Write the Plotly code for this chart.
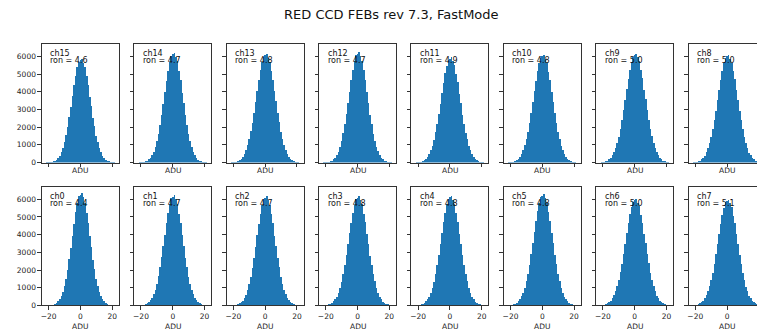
import plotly.graph_objects as go

# ---------------- data ----------------
title_text = "RED CCD FEBs rev 7.3, FastMode"
bin_centers = [-21, -20, -19, -18, -17, -16, -15, -14, -13, -12, -11, -10, -9, -8, -7, -6, -5, -4, -3, -2, -1, 0,
               1, 2, 3, 4, 5, 6, 7, 8, 9, 10, 11, 12, 13, 14, 15, 16, 17, 18, 19, 20, 21]
top_channels = ["ch15", "ch14", "ch13", "ch12", "ch11", "ch10", "ch9", "ch8"]
bottom_channels = ["ch0", "ch1", "ch2", "ch3", "ch4", "ch5", "ch6", "ch7"]
ron_values = {"ch15": 4.6, "ch14": 4.7, "ch13": 4.8, "ch12": 4.7, "ch11": 4.9, "ch10": 4.8, "ch9": 5.0, "ch8": 5.0,
              "ch0": 4.4, "ch1": 4.7, "ch2": 4.7, "ch3": 4.8, "ch4": 4.8, "ch5": 4.8, "ch6": 5.0, "ch7": 5.1}
x_tick_values = [-20, 0, 20]
y_tick_values = [0, 1000, 2000, 3000, 4000, 5000, 6000]

counts_ch15 = [6, 11, 21, 36, 62, 103, 166, 259, 393, 579, 827, 1146, 1544, 2017, 2558, 3150, 3765, 4368, 4919, 5378, 5708, 5790,
               5880, 5650, 5410, 4880, 4390, 3730, 3170, 2530, 2040, 1520, 1160, 810, 590, 385, 265, 160, 105, 60, 37, 20, 12]
counts_ch14 = [6, 12, 22, 39, 66, 109, 175, 274, 415, 612, 875, 1212, 1633, 2133, 2706, 3332, 3983, 4620, 5204, 5689, 6038, 6120,
               6220, 5990, 5720, 5170, 4650, 3950, 3360, 2680, 2150, 1615, 1225, 860, 620, 408, 278, 170, 111, 64, 40, 21, 12]
counts_ch13 = [10, 18, 31, 53, 87, 141, 219, 333, 491, 705, 983, 1335, 1762, 2263, 2825, 3432, 4055, 4658, 5206, 5659, 5981, 6060,
               6150, 5930, 5690, 5170, 4690, 4020, 3460, 2800, 2280, 1745, 1350, 970, 712, 484, 337, 215, 143, 85, 54, 30, 18]
counts_ch12 = [7, 12, 22, 39, 66, 110, 177, 277, 419, 617, 882, 1222, 1646, 2151, 2727, 3359, 4015, 4657, 5245, 5735, 6086, 6150,
               6270, 6040, 5770, 5210, 4690, 3985, 3380, 2705, 2170, 1630, 1235, 870, 625, 412, 281, 173, 112, 64, 40, 21, 12]
counts_ch11 = [10, 17, 30, 52, 84, 136, 212, 322, 475, 682, 951, 1292, 1705, 2189, 2733, 3321, 3923, 4507, 5037, 5475, 5787, 5870,
               5950, 5740, 5505, 5000, 4535, 3895, 3345, 2710, 2205, 1690, 1305, 940, 690, 468, 326, 208, 138, 82, 53, 29, 17]
counts_ch10 = [10, 18, 31, 53, 87, 140, 217, 330, 487, 699, 975, 1324, 1748, 2244, 2802, 3404, 4022, 4620, 5164, 5613, 5933, 6010,
               6100, 5880, 5645, 5130, 4650, 3990, 3430, 2780, 2260, 1730, 1340, 962, 706, 480, 334, 213, 142, 85, 54, 30, 18]
counts_ch9 = [15, 26, 44, 72, 115, 179, 271, 400, 576, 808, 1105, 1470, 1907, 2411, 2968, 3561, 4164, 4741, 5261, 5688, 5992, 6070,
              6150, 5940, 5720, 5225, 4770, 4130, 3590, 2945, 2430, 1890, 1485, 1090, 815, 568, 405, 266, 181, 113, 73, 43, 26]
counts_ch8 = [15, 26, 43, 71, 114, 177, 268, 396, 570, 799, 1092, 1454, 1885, 2383, 2934, 3521, 4116, 4687, 5201, 5623, 5924, 6000,
              6080, 5870, 5655, 5165, 4715, 4085, 3550, 2910, 2400, 1870, 1468, 1080, 806, 562, 400, 264, 179, 112, 72, 42, 26]
counts_ch0 = [4, 8, 15, 27, 48, 83, 139, 223, 349, 529, 775, 1101, 1515, 2018, 2604, 3256, 3943, 4624, 5253, 5780, 6161, 6270,
              6360, 6110, 5810, 5215, 4655, 3910, 3280, 2580, 2035, 1500, 1115, 762, 536, 343, 226, 136, 84, 47, 28, 14, 8]
counts_ch1 = [6, 12, 22, 39, 66, 110, 176, 276, 418, 615, 879, 1218, 1641, 2144, 2719, 3348, 4002, 4643, 5229, 5717, 6067, 6140,
              6250, 6020, 5750, 5195, 4675, 3970, 3370, 2695, 2160, 1625, 1230, 868, 622, 411, 280, 172, 111, 64, 40, 21, 12]
counts_ch2 = [6, 12, 22, 38, 66, 109, 175, 273, 414, 610, 872, 1208, 1628, 2127, 2697, 3321, 3970, 4605, 5187, 5671, 6018, 6100,
              6200, 5970, 5700, 5150, 4635, 3940, 3345, 2675, 2145, 1612, 1220, 862, 617, 408, 277, 171, 110, 64, 39, 21, 12]
counts_ch3 = [10, 18, 32, 54, 88, 142, 220, 334, 494, 708, 988, 1342, 1771, 2274, 2839, 3449, 4075, 4681, 5231, 5686, 6011, 6090,
              6180, 5960, 5715, 5195, 4710, 4045, 3475, 2815, 2290, 1755, 1355, 976, 715, 487, 338, 216, 144, 86, 55, 31, 18]
counts_ch4 = [10, 18, 32, 54, 88, 142, 221, 335, 495, 711, 991, 1346, 1776, 2281, 2848, 3460, 4088, 4696, 5248, 5705, 6030, 6110,
              6200, 5980, 5735, 5210, 4725, 4055, 3485, 2825, 2300, 1760, 1360, 980, 718, 489, 339, 217, 144, 86, 55, 31, 18]
counts_ch5 = [10, 18, 32, 54, 89, 144, 224, 340, 502, 720, 1004, 1363, 1799, 2310, 2885, 3505, 4140, 4756, 5316, 5778, 6108, 6190,
              6280, 6055, 5810, 5280, 4785, 4110, 3530, 2860, 2325, 1782, 1378, 992, 727, 495, 344, 220, 146, 87, 55, 31, 18]
counts_ch6 = [15, 25, 43, 70, 113, 175, 265, 392, 564, 791, 1081, 1439, 1867, 2360, 2905, 3486, 4076, 4641, 5150, 5568, 5865, 5940,
              6020, 5815, 5600, 5115, 4670, 4045, 3515, 2880, 2378, 1850, 1452, 1070, 798, 556, 396, 261, 177, 111, 71, 42, 25]
counts_ch7 = [15, 25, 43, 70, 112, 174, 263, 389, 560, 786, 1074, 1430, 1854, 2344, 2886, 3463, 4048, 4610, 5115, 5531, 5826, 5900,
              5980, 5775, 5560, 5080, 4640, 4015, 3490, 2860, 2360, 1838, 1444, 1062, 792, 553, 392, 259, 176, 110, 71, 42, 25]

counts = {"ch15": counts_ch15, "ch14": counts_ch14, "ch13": counts_ch13, "ch12": counts_ch12,
          "ch11": counts_ch11, "ch10": counts_ch10, "ch9": counts_ch9, "ch8": counts_ch8,
          "ch0": counts_ch0, "ch1": counts_ch1, "ch2": counts_ch2, "ch3": counts_ch3,
          "ch4": counts_ch4, "ch5": counts_ch5, "ch6": counts_ch6, "ch7": counts_ch7}

# ---------------- layout geometry (pixels) ----------------
W, H = 757, 335
PANEL_W = 77.0
COL_STEP = 92.5
LEFT0 = 41.0
ROW_TOP = [45.0, 190.0]
ROW_H = 120.0
PX_PER_ADU = PANEL_W / 48.4
X_MIN, X_MAX = -24.2, 24.2
Y_MAX = 6685

FONT = "DejaVu Sans"
BAR_COLOR = "#1f77b4"
SPINE = "#333333"

fig = go.Figure()
layout = dict(
    width=W, height=H,
    margin=dict(l=0, r=0, t=0, b=0),
    paper_bgcolor="white", plot_bgcolor="white",
    showlegend=False, bargap=0, hovermode=False,
    font=dict(family=FONT, size=8, color="#222222"),
)
annotations = []

idx = 0
for r, row in enumerate([top_channels, bottom_channels]):
    top_px = ROW_TOP[r]
    bot_px = top_px + ROW_H
    for c, ch in enumerate(row):
        idx += 1
        sfx = "" if idx == 1 else str(idx)
        left_px = LEFT0 + COL_STEP * c
        right_px = left_px + PANEL_W
        x_hi = X_MAX
        last = right_px > W
        if last:
            right_px = W
            x_hi = X_MIN + (W - left_px) / PX_PER_ADU
        fig.add_trace(go.Bar(
            x=bin_centers, y=counts[ch], width=1,
            marker=dict(color=BAR_COLOR, line=dict(width=0)),
            xaxis="x" + sfx, yaxis="y" + sfx,
        ))
        layout["xaxis" + sfx] = dict(
            domain=[left_px / W, right_px / W], anchor="y" + sfx,
            range=[X_MIN, x_hi], tickmode="array", tickvals=x_tick_values,
            showticklabels=(r == 1), ticks="outside", ticklen=3.5, tickwidth=1,
            tickcolor=SPINE, showline=True, linecolor=SPINE, linewidth=1, mirror=True,
            showgrid=False, zeroline=False, fixedrange=True,
            tickfont=dict(family=FONT, size=7.5, color="#222222"),
        )
        layout["yaxis" + sfx] = dict(
            domain=[(H - bot_px) / H, (H - top_px) / H], anchor="x" + sfx,
            range=[0, Y_MAX], tickmode="array", tickvals=y_tick_values,
            showticklabels=(c == 0), ticks="outside", ticklen=3.5, tickwidth=1,
            tickcolor=SPINE, showline=True, linecolor=SPINE, linewidth=1, mirror=(not last),
            showgrid=False, zeroline=False, fixedrange=True,
            tickfont=dict(family=FONT, size=7.5, color="#222222"),
        )
        # channel + ron labels
        annotations.append(dict(
            text=ch, xref="paper", yref="paper", x=(left_px + 6.5) / W, y=(H - (top_px + 9.0)) / H,
            xanchor="left", yanchor="middle", showarrow=False,
            font=dict(family=FONT, size=8, color="#111111")))
        annotations.append(dict(
            text="ron = %.1f" % ron_values[ch], xref="paper", yref="paper",
            x=(left_px + 6.5) / W, y=(H - (top_px + 16.5)) / H,
            xanchor="left", yanchor="middle", showarrow=False,
            font=dict(family=FONT, size=8, color="#111111")))
        # ADU axis label
        adu_y = bot_px + (8.0 if r == 0 else 21.5)
        annotations.append(dict(
            text="ADU", xref="paper", yref="paper",
            x=(left_px + PANEL_W / 2) / W, y=(H - adu_y) / H,
            xanchor="center", yanchor="middle", showarrow=False,
            font=dict(family=FONT, size=7.5, color="#222222")))

annotations.append(dict(
    text=title_text, xref="paper", yref="paper", x=390.8 / W, y=(H - 15) / H,
    xanchor="center", yanchor="middle", showarrow=False,
    font=dict(family=FONT, size=13, color="#111111")))

layout["annotations"] = annotations
fig.update_layout(**layout)
fig.write_html(
    "out.html",
    config={"displayModeBar": False, "staticPlot": True},
    post_script="document.body.style.margin='0';document.body.style.padding='0';document.body.style.overflow='hidden';",
)
